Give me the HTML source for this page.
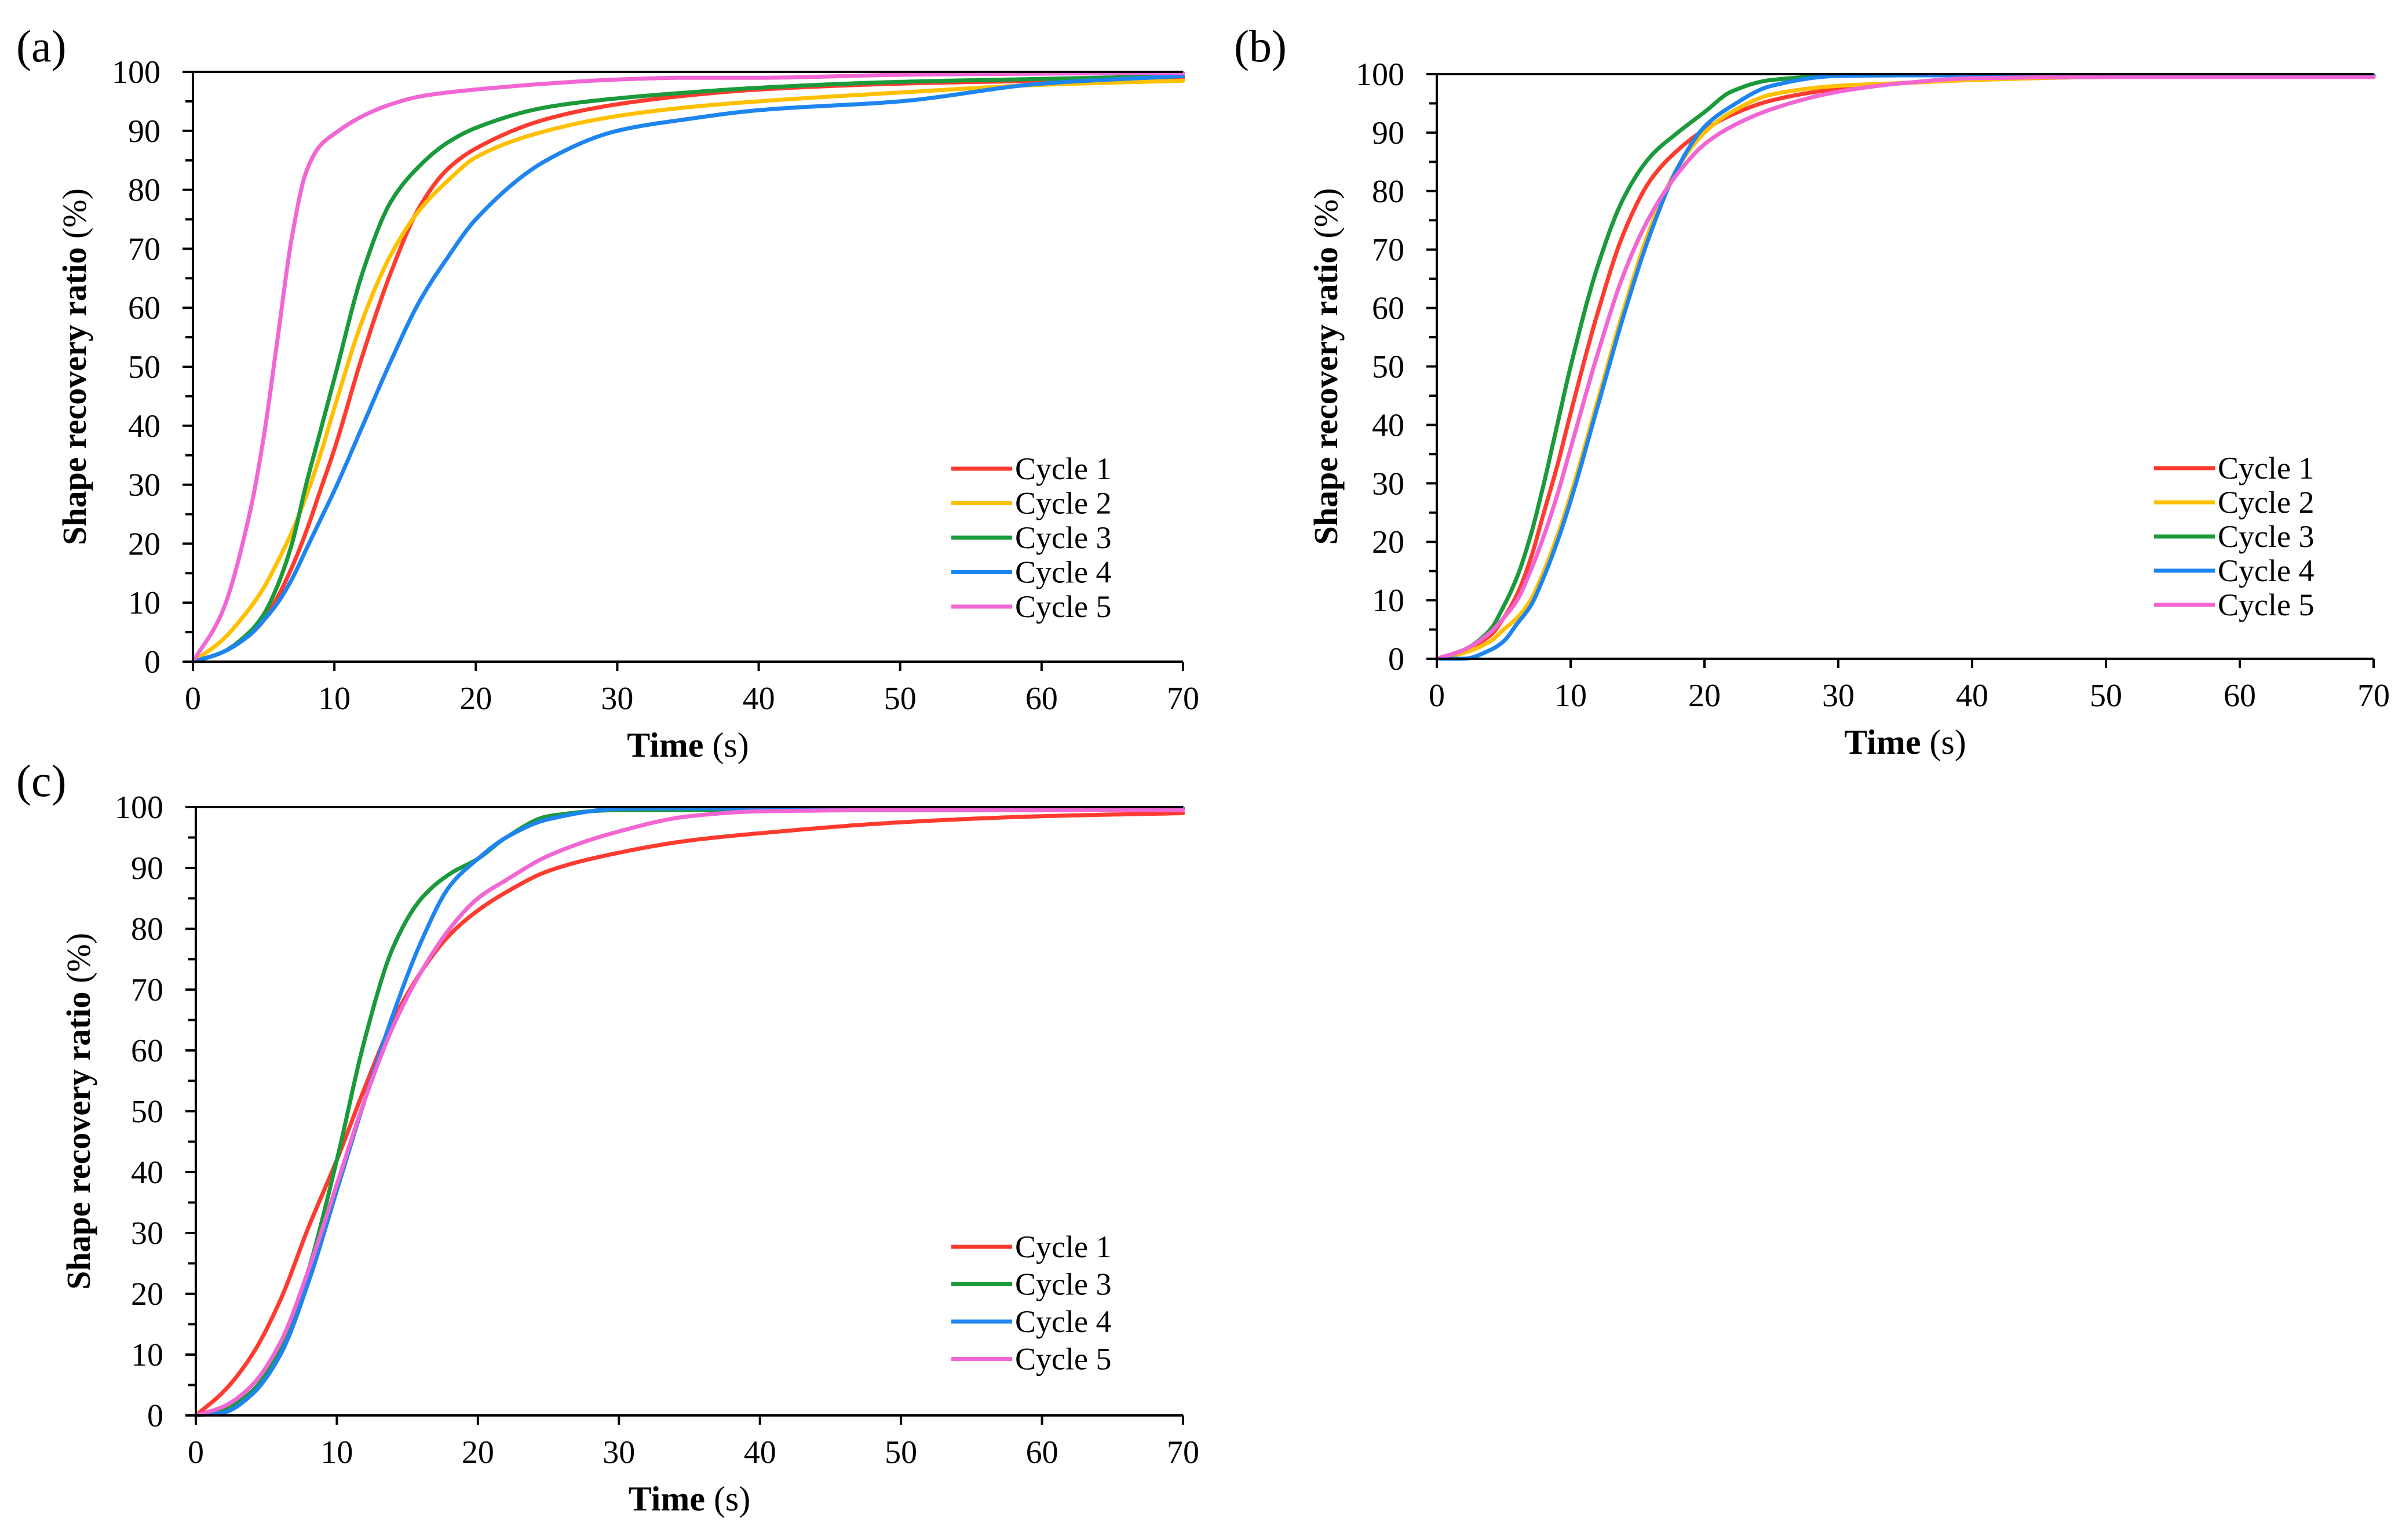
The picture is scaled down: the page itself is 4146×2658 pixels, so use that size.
<!DOCTYPE html>
<html><head><meta charset="utf-8">
<style>
html,body{margin:0;padding:0;background:#fff;}
svg{display:block;}
text{font-family:"Liberation Serif",serif;fill:#000;}
</style></head>
<body>
<svg id="fig" width="4146" height="2658" viewBox="0 0 4146 2658" xmlns="http://www.w3.org/2000/svg"></svg>
<script>
// ---- Panel (a) data ----
const timesA = [0,2,4,5,6,7,8,9,10,12,14,16,18,20,25,30,35,40,50,60,70];
const a_cycle1 = [0,1.5,4.5,7,11,16,22,29,36,52,66,77,83.5,87,92,94.5,96,97,98,98.5,99];
const a_cycle2 = [0,3.5,9,12.5,17,22,28,35,43,58,69,76.5,81.5,85.5,90,92.5,94,95,96.5,97.8,98.5];
const a_cycle3 = [0,1.5,5,8,13,20,30,39,48,66,78,84,88,90.5,94,95.5,96.5,97.3,98.3,98.8,99.3];
const a_cycle4 = [0,1.5,4.5,7,10,14,19,24,29,40,51,61,68.5,75,85,90,92,93.5,95,98,99.3];
const a_cycle5 = [0,8,25,38,55,72,83,87.5,89.5,92.5,94.5,95.8,96.5,97,98,98.7,99,99,99.5,99.7,99.8];
// ---- Panel (b) data ----
const timesB = [0,2,4,5,6,7,8,9,10,12,14,16,18,20,22,25,30,35,40,50,70];
const b_cycle1 = [0,1.5,4,7,11,17,25,33,42,59,73,82,87,90.5,93,95.5,97.5,98.5,99,99.5,99.5];
const b_cycle2 = [0,1,3,5,7,10,15,21,28,44,60,74,84,90,93.5,96.5,98,98.5,99,99.5,99.5];
const b_cycle3 = [0,1.5,5,9,14,21,30,40,50,67,79,86,90,93.5,97,99,99.7,99.8,99.8,99.8,99.8];
const b_cycle4 = [0,0,1.5,3,6,9,14,20,27,43,59,73,84,91,94.5,98,99.7,99.8,99.8,99.8,99.8];
const b_cycle5 = [0,1.5,4.5,7,10,15,21,28,36,52,66,76,83,88,91,94,97,98.5,99.3,99.5,99.5];
// ---- Panel (c) data ----
const timesC = [0,2,4,6,8,10,12,14,16,18,20,22,25,30,35,40,50,60,70];
const c_cycle1 = [0,4,10,19,31,42,54,65,73,79,83,86,89.5,92.5,94.5,95.7,97.5,98.5,99];
const c_cycle3 = [0,1,4,11,24,42,62,77,85,89,91.5,95,98.5,99.5,99.5,99.5,99.5,99.5,99.7];
const c_cycle4 = [0,0.5,3.5,10,22,37,52,66,78,87,91.5,95,98,99.7,99.8,99.8,99.8,99.8,99.8];
const c_cycle5 = [0,1.5,5,12,24,38,52,64,73,80,85,88,92,96,98.5,99.3,99.5,99.5,99.5];
// ---- shared axis ticks ----
const xTicks = [0,10,20,30,40,50,60,70];
const yTicks = [0,10,20,30,40,50,60,70,80,90,100];

const COL = {c1:'#ff3b30', c2:'#ffc000', c3:'#1a9a3a', c4:'#1e85f0', c5:'#f266d4'};
const NS = 'http://www.w3.org/2000/svg';
const svg = document.getElementById('fig');

function el(tag, attrs, parent){
  const e = document.createElementNS(NS, tag);
  for (const k in attrs) e.setAttribute(k, attrs[k]);
  (parent||svg).appendChild(e);
  return e;
}
function monoPath(ts, vs, xs, ys){
  const n = ts.length, d = [], m = [];
  for (let i=0;i<n-1;i++) d.push((vs[i+1]-vs[i])/(ts[i+1]-ts[i]));
  m[0]=d[0]; m[n-1]=d[n-2];
  for (let i=1;i<n-1;i++){
    if (d[i-1]*d[i]<=0) m[i]=0;
    else { const h0=ts[i]-ts[i-1], h1=ts[i+1]-ts[i];
      const w1=2*h1+h0, w2=h1+2*h0;
      m[i]=(w1+w2)/(w1/d[i-1]+w2/d[i]); }
  }
  let path='';
  for (let i=0;i<n-1;i++){
    const h=ts[i+1]-ts[i], steps=Math.max(8, Math.round(h*6));
    for (let k=(i===0?0:1);k<=steps;k++){
      const s=k/steps, s2=s*s, s3=s2*s;
      const v=(2*s3-3*s2+1)*vs[i]+(s3-2*s2+s)*h*m[i]+(-2*s3+3*s2)*vs[i+1]+(s3-s2)*h*m[i+1];
      const t=ts[i]+s*h;
      path += (path?' L':'M') + xs(t).toFixed(1)+','+ys(v).toFixed(1);
    }
  }
  return path;
}

function panel(cfg){
  const g = el('g', {});
  
  
  const xs = v => cfg.x0 + (cfg.x1-cfg.x0)*v/70;
  const ys = v => cfg.y0 - (cfg.y0-cfg.y1)*v/100;

  const pl = el('text', {x:cfg.lx, y:cfg.ly, 'font-size':78}, g);
  pl.textContent = cfg.label;
  
  

  cfg.series.forEach(s=>{
    const p = el('path', {d:monoPath(cfg.times, s.vals, xs, ys), fill:'none', stroke:s.color, 'stroke-width':7, 'stroke-linejoin':'round', 'stroke-linecap':'round'}, g);
    
    
  });

  const ax = el('path', {d:`M${cfg.x0},${cfg.y1} V${cfg.y0} H${cfg.x1}`, fill:'none', stroke:'#000', 'stroke-width':4}, g);
  
  
  const top = el('line', {x1:cfg.x0-18, y1:cfg.y1, x2:cfg.x1, y2:cfg.y1, stroke:'#000', 'stroke-width':4}, g);
  
  

  yTicks.forEach(v=>{
    const y = ys(v);
    el('line', {x1:cfg.x0-18, y1:y, x2:cfg.x0, y2:y, stroke:'#000', 'stroke-width':4}, g);
    if (v<100) el('line', {x1:cfg.x0-13, y1:ys(v+5), x2:cfg.x0, y2:ys(v+5), stroke:'#000', 'stroke-width':4}, g);
    const t = el('text', {x:cfg.x0-56, y:y+19, 'font-size':56, 'text-anchor':'end'}, g);
    t.textContent = v;
    
    
  });
  xTicks.forEach(v=>{
    const x = xs(v);
    el('line', {x1:x, y1:cfg.y0, x2:x, y2:cfg.y0+16, stroke:'#000', 'stroke-width':4}, g);
    const t = el('text', {x:x, y:cfg.y0+82, 'font-size':56, 'text-anchor':'middle'}, g);
    t.textContent = v;
    
    
  });
  const xt = el('text', {x:(cfg.x0+cfg.x1)/2, y:cfg.y0+164, 'font-size':60, 'font-weight':'bold', 'text-anchor':'middle'}, g);
  xt.innerHTML = 'Time <tspan font-weight="normal">(s)</tspan>';
  
  
  const yc = (cfg.y0+cfg.y1)/2;
  const yt = el('text', {x:cfg.ytx, y:yc, 'font-size':58, 'font-weight':'bold', 'text-anchor':'middle', transform:`rotate(-90 ${cfg.ytx} ${yc})`}, g);
  yt.innerHTML = 'Shape recovery ratio <tspan font-weight="normal">(%)</tspan>';
  
  

  const lg = el('g', {}, g);
  
  
  cfg.series.forEach((s,i)=>{
    const y = cfg.legY + i*cfg.legDy;
    const e = el('g', {}, lg);
    
    
    el('line', {x1:cfg.legX, y1:y, x2:cfg.legX+105, y2:y, stroke:s.color, 'stroke-width':7}, e);
    const t = el('text', {x:cfg.legX+110, y:y+18, 'font-size':54}, e);
    t.textContent = s.label;
  });
}

panel({name:'panel-a', label:'(a)', lx:28, ly:106, x0:333, x1:2042, y0:1142, y1:124, ytx:148,
  times:timesA, legX:1642, legY:809, legDy:59.5,
  series:[
    {id:'a-cycle-1', label:'Cycle 1', color:COL.c1, vals:a_cycle1},
    {id:'a-cycle-2', label:'Cycle 2', color:COL.c2, vals:a_cycle2},
    {id:'a-cycle-3', label:'Cycle 3', color:COL.c3, vals:a_cycle3},
    {id:'a-cycle-4', label:'Cycle 4', color:COL.c4, vals:a_cycle4},
    {id:'a-cycle-5', label:'Cycle 5', color:COL.c5, vals:a_cycle5}]});
panel({name:'panel-b', label:'(b)', lx:2130, ly:106, x0:2480, x1:4097, y0:1137, y1:128, ytx:2308,
  times:timesB, legX:3718, legY:808, legDy:59,
  series:[
    {id:'b-cycle-1', label:'Cycle 1', color:COL.c1, vals:b_cycle1},
    {id:'b-cycle-2', label:'Cycle 2', color:COL.c2, vals:b_cycle2},
    {id:'b-cycle-3', label:'Cycle 3', color:COL.c3, vals:b_cycle3},
    {id:'b-cycle-4', label:'Cycle 4', color:COL.c4, vals:b_cycle4},
    {id:'b-cycle-5', label:'Cycle 5', color:COL.c5, vals:b_cycle5}]});
panel({name:'panel-c', label:'(c)', lx:28, ly:1374, x0:338, x1:2042, y0:2443, y1:1393, ytx:155,
  times:timesC, legX:1642, legY:2152, legDy:64.5,
  series:[
    {id:'c-cycle-1', label:'Cycle 1', color:COL.c1, vals:c_cycle1},
    {id:'c-cycle-3', label:'Cycle 3', color:COL.c3, vals:c_cycle3},
    {id:'c-cycle-4', label:'Cycle 4', color:COL.c4, vals:c_cycle4},
    {id:'c-cycle-5', label:'Cycle 5', color:COL.c5, vals:c_cycle5}]});
</script>
</body></html>
